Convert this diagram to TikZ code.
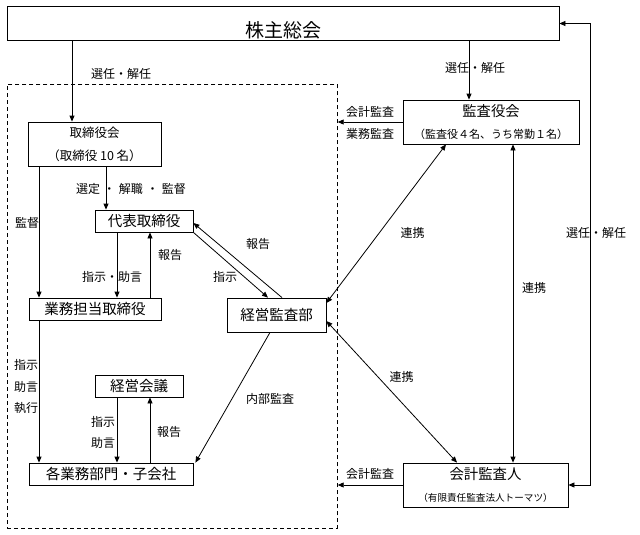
\documentclass[tikz,border=0pt]{standalone}
\usepackage{fontspec}
\setmainfont{Noto Sans CJK JP}
\usetikzlibrary{arrows.meta}
\tikzset{
  box/.style={draw, line width=0.8pt, rectangle, inner sep=0pt, align=center},
  lbl/.style={inner sep=0pt, font=\fontsize{12}{14}\selectfont},
  arr/.style={line width=0.8pt, -{Triangle[length=6pt,width=5pt]}},
  arrb/.style={line width=0.8pt, {Triangle[length=6pt,width=5pt]}-{Triangle[length=6pt,width=5pt]}},
  bigtxt/.style={font=\fontsize{14.5}{16}\selectfont},
}
\begin{document}
\begin{tikzpicture}[x=1pt, y=-1pt]
\useasboundingbox (0,0) rectangle (640,535);

% helper x positions
\coordinate (xA) at (72,0);
\coordinate (xB) at (39,0);
\coordinate (xC) at (106,0);
\coordinate (xD) at (117,0);
\coordinate (xE) at (150,0);
\coordinate (xF) at (469,0);
\coordinate (xG) at (513,0);
\coordinate (xR) at (590,0);

% dashed frame
\node[draw, dashed, dash pattern=on 4pt off 3pt, line width=0.7pt, inner sep=0pt,
      minimum width=330pt, minimum height=444pt, anchor=north west] (frame) at (7,84) {};

% boxes
\node[box, minimum width=552pt, minimum height=34pt, text height=28pt, text depth=0.6pt,
      font=\fontsize{19}{20}\selectfont] (GM) at (283,23.5) {株主総会};
\node[box, minimum width=133pt, minimum height=44pt, font=\fontsize{12.5}{23}\selectfont]
      (BOD) at (94.5,144) {取締役会\\（取締役 10 名）};
\node[box, bigtxt, minimum width=98pt, minimum height=22pt] (REP) at (144,221) {代表取締役};
\node[box, bigtxt, minimum width=132pt, minimum height=22pt] (EXE) at (95,309) {業務担当取締役};
\node[box, bigtxt, minimum width=99pt, minimum height=34pt] (AUD) at (276.5,315) {経営監査部};
\node[box, bigtxt, minimum width=88pt, minimum height=22pt] (MGM) at (139,386) {経営会議};
\node[box, bigtxt, minimum width=164pt, minimum height=22pt] (DEP) at (111,474) {各業務部門・子会社};
\node[box, minimum width=176pt, minimum height=44pt, font=\fontsize{11}{22}\selectfont]
      (KAN) at (491,122) {{\fontsize{14.3}{22}\selectfont 監査役会}\\（監査役４名、うち常勤１名）};
\node[box, minimum width=165pt, minimum height=44pt, font=\fontsize{9.6}{22}\selectfont]
      (ACC) at (485.5,485) {{\fontsize{14.4}{22}\selectfont 会計監査人}\\（有限責任監査法人トーマツ）};

% connectors
\draw[arr] (GM.south -| xA) -- (BOD.north -| xA);
\draw[arr] (BOD.south -| xB) -- (EXE.north -| xB);
\draw[arr] (BOD.south -| xC) -- (REP.north -| xC);
\draw[arr] (REP.south -| xD) -- (EXE.north -| xD);
\draw[arr] (EXE.north -| xE) -- (REP.south -| xE);
\draw[arr] (EXE.south -| xB) -- (DEP.north -| xB);
\draw[arr] (MGM.south -| xD) -- (DEP.north -| xD);
\draw[arr] (DEP.north -| xE) -- (MGM.south -| xE);
\draw[arr] (REP.south east) -- ([xshift=-8.5pt]AUD.north);
\draw[arr] ([xshift=5.5pt]AUD.north) -- ([yshift=-2pt]REP.east);
\draw[arr] ([xshift=-6.5pt]AUD.south) -- ([xshift=2pt]DEP.north east);
\draw[arr] (GM.south -| xF) -- (KAN.north -| xF);
\draw[arrb] (KAN.south -| xG) -- (ACC.north -| xG);
\draw[arrb] ([xshift=-45pt]KAN.south) -- ([yshift=12pt]AUD.east);
\draw[arrb] ([yshift=-6pt]AUD.east) -- ([xshift=-28.5pt]ACC.north);
\draw[arr] (KAN.west) -- (KAN.west -| frame.east);
\draw[arr] (ACC.west) -- (ACC.west -| frame.east);
\draw[arrb] (GM.east) -- (GM.east -| xR) -- (ACC.east -| xR) -- (ACC.east);

% labels
\node[lbl] (l1) at (121,74) {選任・解任};
\node[lbl] (l2) at (475,68) {選任・解任};
\node[lbl] (l3) at (596,233) {選任・解任};
\node[lbl] (l4) at (27,223) {監督};
\node[lbl] (l5) at (131,189) {選定\hspace{3.5pt}・\hspace{3.5pt}解職\hspace{3.5pt}・\hspace{3.5pt}監督};
\node[lbl] (l6) at (112,277) {指示・助言};
\node[lbl] (l7) at (170,255) {報告};
\node[lbl] (l8) at (258,244) {報告};
\node[lbl] (l9) at (225,277) {指示};
\node[lbl] (l10) at (26,365) {指示};
\node[lbl] (l11) at (26,387) {助言};
\node[lbl] (l12) at (26,408) {執行};
\node[lbl] (l13) at (103,422) {指示};
\node[lbl] (l14) at (103,443) {助言};
\node[lbl] (l15) at (169,432) {報告};
\node[lbl] (l16) at (270,399) {内部監査};
\node[lbl] (l17) at (370,112) {会計監査};
\node[lbl] (l18) at (370,134) {業務監査};
\node[lbl] (l19) at (412.5,233) {連携};
\node[lbl] (l20) at (534,288) {連携};
\node[lbl] (l21) at (401.5,377) {連携};
\node[lbl] (l22) at (370,474) {会計監査};
\end{tikzpicture}
\end{document}
